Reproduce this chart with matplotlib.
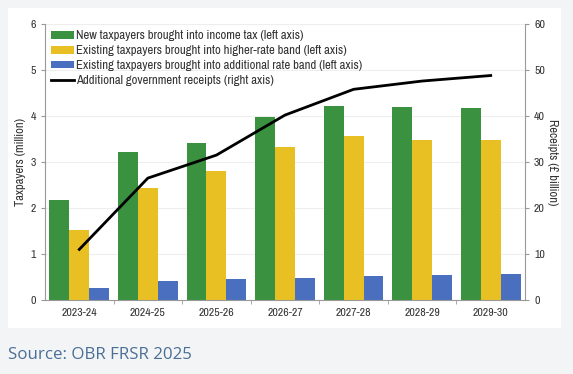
import numpy as np
import matplotlib.pyplot as plt
from matplotlib.patches import Rectangle

years = ['2023-24', '2024-25', '2025-26', '2026-27', '2027-28', '2028-29', '2029-30']
new_taxpayers = [2.17, 3.21, 3.41, 3.97, 4.21, 4.19, 4.17]
higher_rate = [1.52, 2.44, 2.80, 3.33, 3.56, 3.47, 3.47]
additional_rate = [0.27, 0.41, 0.45, 0.48, 0.52, 0.54, 0.56]
receipts = [11.0, 26.5, 31.5, 40.2, 45.8, 47.6, 48.8]

green = '#3a9140'
yellow = '#e9c023'
blue = '#4a6fbf'
plt.rcParams['font.family'] = ['Archivo Narrow', 'Liberation Sans Narrow', 'DejaVu Sans']

fig = plt.figure(figsize=(5.73, 3.74), dpi=100, facecolor='#f3f4f5')
# white panel behind the chart
fig.patches.append(Rectangle((8 / 573, 1 - 328 / 374), 553 / 573, 320 / 374,
                             transform=fig.transFigure, facecolor='white',
                             edgecolor='none', zorder=-10))
ax = fig.add_axes([45 / 573, 1 - 300 / 374, 480 / 573, 276 / 374])
ax.set_facecolor('none')

x = np.arange(len(years))
w = 0.29
ax.bar(x - w, new_taxpayers, w, color=green, label='New taxpayers brought into income tax (left axis)')
ax.bar(x, higher_rate, w, color=yellow, label='Existing taxpayers brought into higher-rate band (left axis)')
ax.bar(x + w, additional_rate, w, color=blue, label='Existing taxpayers brought into additional rate band (left axis)')

ax.set_xlim(-0.5, 6.5)
ax.set_ylim(0, 6)
ax.set_yticks(range(0, 7))
ax.set_xticks(x)
ax.set_xticklabels(years)
ax.set_xticks(np.arange(0.5, 6, 1), minor=True)
ax.tick_params(axis='x', which='major', length=0, labelsize=8.5, colors='#333333', pad=6)
ax.tick_params(axis='x', which='minor', length=3, color='#999999')
ax.tick_params(axis='y', length=3, color='#999999', labelsize=8.5, labelcolor='#333333')
ax.yaxis.grid(True, color='#eeeeee', linewidth=0.8)
ax.set_axisbelow(True)
ax.set_ylabel('Taxpayers (million)', fontsize=9, color='#333333', labelpad=3)
for s in ['top', 'right']:
    ax.spines[s].set_visible(False)
for s in ['left', 'bottom']:
    ax.spines[s].set_color('#999999')
    ax.spines[s].set_linewidth(0.8)

ax2 = ax.twinx()
ax2.plot(x, receipts, color='black', linewidth=2, label='Additional government receipts (right axis)')
ax2.set_ylim(0, 60)
ax2.set_yticks(range(0, 61, 10))
ax2.tick_params(axis='y', length=3, color='#999999', labelsize=8.5, labelcolor='#333333')
ax2.set_ylabel('Receipts (£ billion)', fontsize=9, color='#333333', rotation=270, labelpad=9)
for s in ['top', 'left', 'bottom']:
    ax2.spines[s].set_visible(False)
ax2.spines['right'].set_color('#999999')
ax2.spines['right'].set_linewidth(0.8)

h1, l1 = ax.get_legend_handles_labels()
h2, l2 = ax2.get_legend_handles_labels()
ax2.legend(h1 + h2, l1 + l2, loc='upper left', frameon=False, fontsize=9.2,
           handlelength=1.8, handleheight=0.55, handletextpad=0.15,
           labelspacing=0.3, borderaxespad=0.1, bbox_to_anchor=(0.0, 1.0),
           labelcolor='#333333')

fig.text(8 / 573, 1 - 355 / 374, 'Source: OBR FRSR 2025', fontsize=12.2,
         color='#4a6e96', family='Open Sans', va='center')

fig.savefig('out.png', dpi=100, facecolor=fig.get_facecolor())
